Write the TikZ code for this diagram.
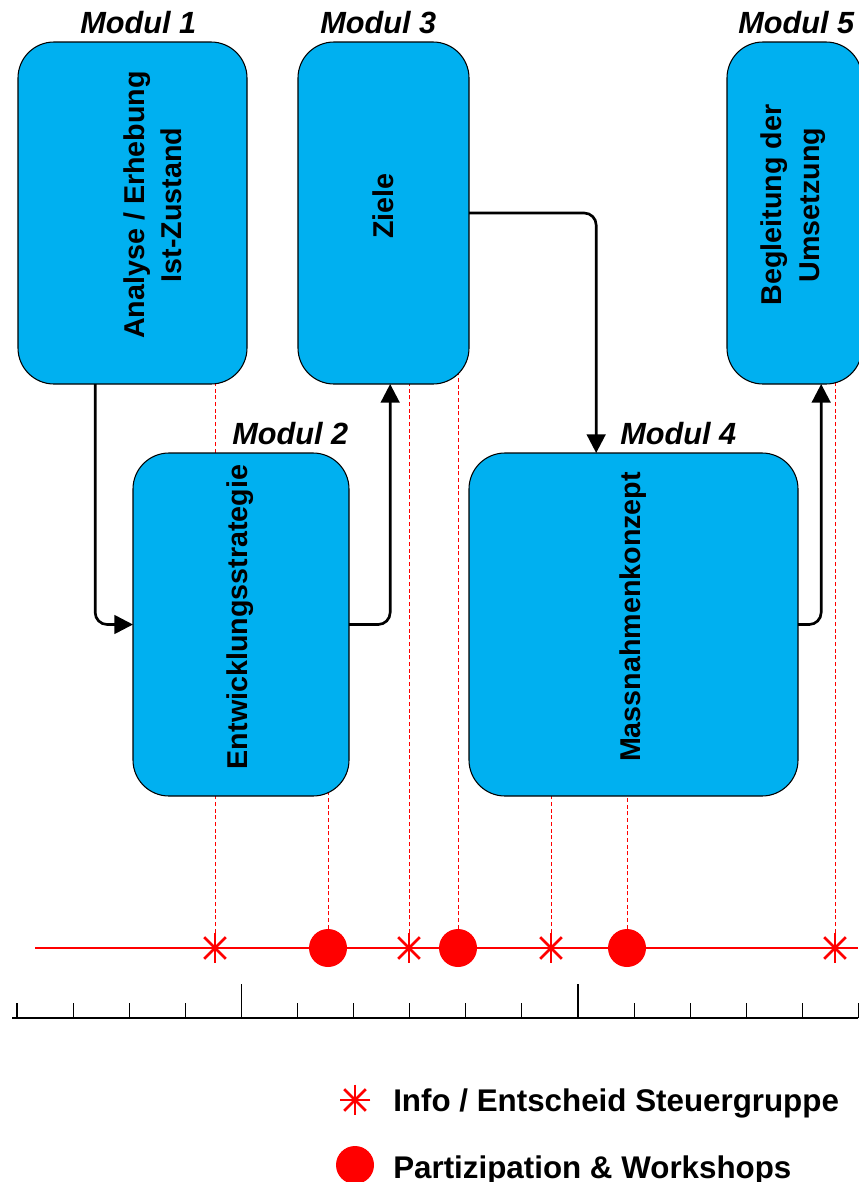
\documentclass[tikz,border=0pt]{standalone}
\usepackage{fontspec}
\setmainfont{Liberation Sans}
\usetikzlibrary{arrows.meta}
\pgfdeclarelayer{background}
\pgfsetlayers{background,main}
\definecolor{modblue}{RGB}{0,176,240}
\tikzset{
  modbox/.style={draw=black, line width=0.8pt, fill=modblue, rounded corners=27pt, inner sep=0pt, outer sep=0pt},
  modtext/.style={rotate=90, align=center, inner sep=0pt, font=\bfseries\fontsize{21.5}{28}\selectfont},
  modlabel/.style={anchor=base west, inner sep=0pt, font=\bfseries\itshape\fontsize{23}{26}\selectfont},
  flow/.style={line width=2pt, rounded corners=9pt, -{Triangle[length=14pt,width=14pt]}},
  guide/.style={red, dash pattern=on 3pt off 2pt, line width=0.7pt},
  starmark/.style={circle, minimum size=23pt, inner sep=0pt, outer sep=0pt},
  starline/.style={red, line width=2pt},
  dotmark/.style={circle, fill=red, minimum size=28.5pt, inner sep=0pt},
  legtext/.style={anchor=base west, inner sep=0pt, font=\bfseries\fontsize{23.5}{28}\selectfont}
}
\begin{document}
\begin{tikzpicture}[x=0.75pt,y=0.75pt,yscale=-1,xscale=1]
\useasboundingbox (0,0) rectangle (858,1182);
\node[modbox, minimum width=171.75pt, minimum height=256.5pt] (m1) at (132.5,213) {};
\node[modbox, minimum width=128.25pt, minimum height=256.5pt] (m3) at (383.5,213) {};
\node[modbox, minimum width=101.25pt, minimum height=256.5pt] (m5) at (794.5,213) {};
\node[modbox, minimum width=162pt, minimum height=257.25pt] (m2) at (241,624.5) {};
\node[modbox, minimum width=246.75pt, minimum height=257.25pt] (m4) at (633.5,624.5) {};
\node[modtext] (t1) at (153,205) {Analyse / Erhebung\\Ist-Zustand};
\node[modtext] (t3) at (383,206) {Ziele};
\node[modtext] (t5) at (793,205) {Begleitung der\\Umsetzung};
\node[modtext] (t2) at (240,617) {Entwicklungsstrategie};
\node[modtext] (t4) at (633,617) {Massnahmenkonzept};
\node[modlabel] (l1) at (80,33) {Modul 1};
\node[modlabel] (l3) at (320,33) {Modul 3};
\node[modlabel] (l5) at (738,33) {Modul 5};
\node[modlabel] (l2) at (232,444) {Modul 2};
\node[modlabel] (l4) at (620,444) {Modul 4};
\draw[flow] ([xshift=-28pt]m1.south) |- (m2.west);
\draw[flow] (m2.east) -| ([xshift=5pt]m3.south);
\draw[flow] (m3.east) -| ([xshift=-28pt]m4.north);
\draw[flow] (m4.east) -| ([xshift=20pt]m5.south);
\coordinate (t0) at (35,948);
\coordinate (tend) at (858,948);
\draw[red, line width=1.5pt] (t0) -- (tend);
\node[starmark] (s1) at (215,948) {};
\node[starmark] (s2) at (409,948) {};
\node[starmark] (s3) at (551,948) {};
\node[starmark] (s4) at (835,948) {};
\node[dotmark] (c1) at (328,948) {};
\node[dotmark] (c2) at (458,948) {};
\node[dotmark] (c3) at (627,948) {};
\begin{pgfonlayer}{background}
\draw[guide] (s1) -- (s1 |- m1.center);
\draw[guide] (c1) -- (c1 |- m2.center);
\draw[guide] (s2) -- (s2 |- m3.center);
\draw[guide] (c2) -- (c2 |- m3.center);
\draw[guide] (s3) -- (s3 |- m4.center);
\draw[guide] (c3) -- (c3 |- m4.center);
\draw[guide] (s4) -- (s4 |- m5.center);
\end{pgfonlayer}
\draw[line width=1.5pt] (12,1018) -- (858,1018);
\foreach \i in {0,...,15}
  \draw[line width=0.8pt] (17+56.1*\i,1018) -- ++(0,-15);
\draw[line width=0.8pt] (241.4,1018) -- ++(0,-34);
\draw[line width=2pt] (578,1018) -- ++(0,-34);
\node[starmark] (ls) at (355,1100) {};
\node[dotmark] (lc) at (355,1165) {};
\foreach \s in {s1,s2,s3,s4,ls}
  \foreach \a/\b in {0/180,45/225,90/270,135/315}
    \draw[starline] (\s.\a) -- (\s.\b);
\node[legtext] (lt1) at (393,1111) {Info / Entscheid Steuergruppe};
\node[legtext] (lt2) at (393,1178) {Partizipation \& Workshops};
\end{tikzpicture}
\end{document}
